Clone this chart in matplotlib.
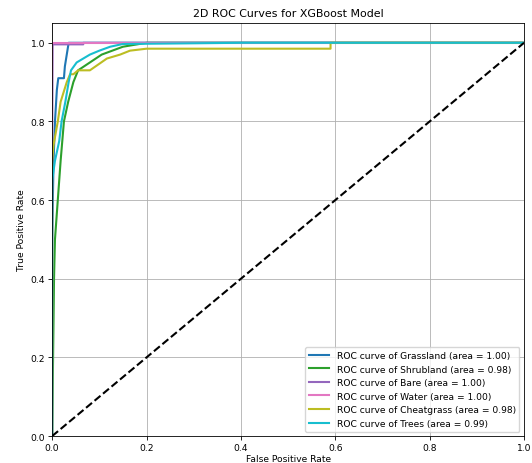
import matplotlib.pyplot as plt
plt.switch_backend('agg')

plt.rcParams['font.size'] = 6.6
plt.rcParams['axes.linewidth'] = 0.6
plt.rcParams['xtick.major.size'] = 2.6
plt.rcParams['ytick.major.size'] = 2.6
plt.rcParams['xtick.major.width'] = 0.6
plt.rcParams['ytick.major.width'] = 0.6
plt.rcParams['xtick.major.pad'] = 2.5
plt.rcParams['ytick.major.pad'] = 2.5
plt.rcParams['grid.linewidth'] = 0.6

class_names = ['Grassland', 'Shrubland', 'Bare', 'Water', 'Cheatgrass', 'Trees']
roc_auc = [1.00, 0.98, 1.00, 1.00, 0.98, 0.99]
colors = ['tab:blue', 'tab:green', 'tab:purple', 'tab:pink', 'tab:olive', 'tab:cyan']

# false positive rate / true positive rate per class
fpr_grassland = [0.0, 0.0, 0.003, 0.006, 0.010, 0.013, 0.025, 0.027, 0.035, 1.0]
tpr_grassland = [0.0, 0.50, 0.70, 0.80, 0.88, 0.91, 0.91, 0.94, 1.0, 1.0]

fpr_shrubland = [0.0, 0.002, 0.004, 0.006, 0.012, 0.018, 0.025, 0.034, 0.045, 0.055,
                 0.080, 0.105, 0.150, 0.200, 1.0]
tpr_shrubland = [0.0, 0.20, 0.40, 0.50, 0.60, 0.70, 0.80, 0.85, 0.90, 0.93,
                 0.95, 0.97, 0.99, 1.0, 1.0]

fpr_bare = [0.0, 0.0, 0.001, 0.066, 0.066, 1.0]
tpr_bare = [0.0, 0.75, 0.996, 0.996, 1.0, 1.0]

fpr_water = [0.0, 0.0, 1.0]
tpr_water = [0.0, 1.0, 1.0]

fpr_cheatgrass = [0.0, 0.0, 0.003, 0.012, 0.018, 0.031, 0.038, 0.045, 0.055, 0.080,
                  0.116, 0.144, 0.165, 0.200, 0.590, 0.590, 1.0]
tpr_cheatgrass = [0.0, 0.70, 0.74, 0.80, 0.85, 0.90, 0.92, 0.92, 0.93, 0.93,
                  0.96, 0.97, 0.98, 0.985, 0.985, 1.0, 1.0]

fpr_trees = [0.0, 0.0, 0.006, 0.015, 0.020, 0.028, 0.035, 0.040, 0.052, 0.066,
             0.080, 0.100, 0.123, 0.150, 0.400, 1.0]
tpr_trees = [0.0, 0.65, 0.70, 0.75, 0.80, 0.85, 0.90, 0.93, 0.95, 0.96,
             0.97, 0.98, 0.99, 0.997, 1.0, 1.0]

fprs = [fpr_grassland, fpr_shrubland, fpr_bare, fpr_water, fpr_cheatgrass, fpr_trees]
tprs = [tpr_grassland, tpr_shrubland, tpr_bare, tpr_water, tpr_cheatgrass, tpr_trees]

fig = plt.figure(figsize=(5.32, 4.64), dpi=100)
ax = fig.add_axes([0.098, 0.058, 0.887, 0.89])

for name, fpr, tpr, auc, color in zip(class_names, fprs, tprs, roc_auc, colors):
    ax.plot(fpr, tpr, color=color, lw=1.5,
            label='ROC curve of {0} (area = {1:0.2f})'.format(name, auc))

ax.plot([0, 1], [0, 1], 'k--', lw=1.5)
ax.set_xlim([0.0, 1.0])
ax.set_ylim([0.0, 1.05])
ax.set_xlabel('False Positive Rate', labelpad=1.5)
ax.set_ylabel('True Positive Rate', labelpad=3)
ax.set_title('2D ROC Curves for XGBoost Model', fontsize=7.9, pad=5)
ax.legend(loc='lower right', handlelength=2.2)
ax.grid(True)

fig.savefig('out.png', dpi=100)
